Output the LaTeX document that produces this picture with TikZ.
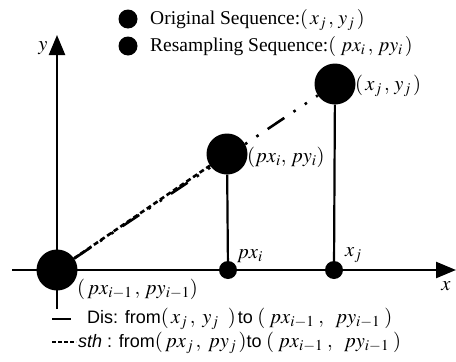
\documentclass[tikz,border=0pt]{standalone}
\usepackage{mathptmx}
\usepackage[no-math]{fontspec}
\setmainfont{Liberation Serif}
\setsansfont{Liberation Sans}
\usetikzlibrary{arrows.meta}
\newcommand{\mbig}[1]{{\fontsize{20}{22}\selectfont$#1$}}
\newcommand{\mbot}[1]{{\fontsize{20.5}{22}\selectfont$#1$}}
\tikzset{
  bigdot/.style={circle,fill=black,draw=none,minimum size=41pt,inner sep=0pt},
  smalldot/.style={circle,fill=black,draw=none,minimum size=18pt,inner sep=0pt},
  legdot/.style={circle,fill=black,draw=none,minimum size=19pt,inner sep=0pt},
  axisline/.style={line width=2.4pt,-{Triangle[length=20pt,width=16pt]}},
  stem/.style={line width=2.2pt},
  disline/.style={line width=2.6pt,dash pattern=on 20pt off 11pt on 2.6pt off 11pt on 2.6pt off 11pt},
  sthline/.style={line width=2.6pt,dash pattern=on 5pt off 3pt},
  lbl/.style={inner sep=0pt,font=\fontsize{20.5}{22}\selectfont},
  tlbl/.style={inner sep=0pt,font=\fontsize{19.5}{21}\selectfont},
  slbl/.style={inner sep=0pt,font=\sffamily\fontsize{18}{20}\selectfont},
}
\begin{document}
\begin{tikzpicture}[x=1pt,y=-1pt]
\useasboundingbox (0,0) rectangle (456,362);
% axes
\coordinate (xs) at (12,270);
\coordinate (xe) at (456,270);
\coordinate (ys) at (57,309);
\coordinate (ye) at (57,35);
\draw[axisline] (xs) -- (xe);
\draw[axisline] (ys) -- (ye);
\node[lbl] (ylab) at (43,48) {$y$};
\node[lbl] (xlab) at (446,286) {$x$};
% points
\node[bigdot] (p0) at (57,270) {};
\node[bigdot] (pi) at (227,154) {};
\node[bigdot] (xj) at (335,84) {};
\node[smalldot] (pxi) at (228,270) {};
\node[smalldot] (xjx) at (334,270) {};
\draw[stem] (pi) -- (pxi);
\draw[stem] (xj) -- (xjx);
\draw[disline] (p0) -- (xj);
\draw[sthline] (p0) -- (pi);
% labels
\node[lbl,anchor=west] (lxj) at (355,86) {$(\,x_j\,,\,y_j\,)$};
\node[lbl,anchor=west] (lpi) at (247,157) {$(px_i,\,py_i)$};
\node[lbl,anchor=west] (lp0) at (77,289) {$(\,px_{i-1}\,,\,py_{i-1})$};
\node[lbl,anchor=west] (lpxi) at (237,256) {$px_i$};
\node[lbl,anchor=west] (lxjx) at (345,255) {$x_j$};
% top legend
\node[legdot] (ld1) at (128,19) {};
\node[legdot] (ld2) at (128,46) {};
\node[tlbl,anchor=west] (lt1) at (150,20) {Original Sequence:\mbig{(\,x_j\,,\,y_j\,)}};
\node[tlbl,anchor=west] (lt2) at (150,46) {Resampling Sequence:\mbig{(\;px_i\,,\,py_i\,)}};
% bottom legend
\coordinate (b1s) at (52,319);
\coordinate (b1e) at (71,319);
\coordinate (b2s) at (52,342);
\coordinate (b2e) at (76,342);
\draw[line width=2.8pt] (b1s) -- (b1e);
\draw[line width=2.6pt,dash pattern=on 4pt off 2pt] (b2s) -- (b2e);
\node[slbl,anchor=west] (bt1) at (87,319) {Dis: from\mbot{(\,x_j\,,\;y_j\;\;)}\hspace{2pt}to\mbot{\;(\hspace{4pt}px_{i-1}\hspace{4pt},\hspace{9pt}py_{i-1}\hspace{4pt})}};
\node[slbl,anchor=west] (bt2) at (78,343) {\textit{sth} : from\mbot{(\,px_j\,,\;py_j\,)}to\mbot{\;(\hspace{4pt}px_{i-1}\hspace{4pt},\hspace{9pt}py_{i-1}\hspace{4pt})}};
\end{tikzpicture}
\end{document}
